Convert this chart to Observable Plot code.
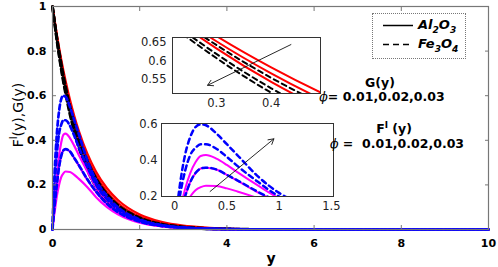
<!DOCTYPE html>
<html>
<head>
<meta charset="utf-8">
<script src="https://cdn.jsdelivr.net/npm/d3@7"></script>
<script src="https://cdn.jsdelivr.net/npm/@observablehq/plot@0.6"></script>
<style>
  body { margin: 0; background: #fff; }
  #wrap { position: relative; width: 498px; height: 267px; overflow: hidden; font-family: "DejaVu Sans", sans-serif; }
  .abs { position: absolute; }
  .ann { position: absolute; transform: translate(-50%, -50%); white-space: nowrap; font-weight: bold; font-size: 12.5px; color: #000; }
  .phi { font-family: "DejaVu Serif", serif; font-style: italic; font-weight: normal; }
  sup, sub { font-size: 70%; }
  .leg { position: absolute; left: 372px; top: 13px; width: 94px; height: 46px; border: 1px dotted #777; box-sizing: border-box; }
  .legtxt { position: absolute; font-weight: bold; font-style: italic; font-size: 13px; white-space: nowrap; transform: translateY(-50%); }
</style>
</head>
<body>
<div id="wrap">
  <div id="main" class="abs" style="left:0;top:0"></div>
  <div id="inset1" class="abs" style="left:132px;top:31px"></div>
  <div id="inset2" class="abs" style="left:129px;top:116px"></div>
  <div class="ann" style="left:380px;top:82px">G(y)</div>
  <div class="ann" style="left:382px;top:96px"><span class="phi">ϕ</span>= 0.01,0.02,0.03</div>
  <div class="ann" style="left:394px;top:128px">F<sup>I</sup> (y)</div>
  <div class="ann" style="left:397px;top:143px"><span class="phi">ϕ</span> =&nbsp; 0.01,0.02,0.03</div>
  <div class="ann" style="left:271px;top:258px;font-size:14px">y</div>
  <div class="ann" style="left:17px;top:115px;transform:translate(-50%,-50%) rotate(-90deg);font-weight:normal;font-size:14px">F<sup>I</sup>(y),G(y)</div>
  <div class="leg">
    <svg class="abs" style="left:0;top:0" width="94" height="46">
      <line x1="10" x2="40" y1="11.5" y2="11.5" stroke="#000" stroke-width="1.5"/>
      <line x1="10" x2="40" y1="30.5" y2="30.5" stroke="#000" stroke-width="1.5" stroke-dasharray="6,4"/>
    </svg>
    <div class="legtxt" style="left:45px;top:12px">Al<sub>2</sub>O<sub>3</sub></div>
    <div class="legtxt" style="left:45px;top:31px">Fe<sub>3</sub>O<sub>4</sub></div>
  </div>
</div>
<script>
// ---------- data ----------
const gx = [0,0.1,0.2,0.3,0.4,0.5,0.6,0.8,1,1.25,1.5,2,2.5,3,3.5,4,5,6,7,8,10];
// G(y), Al2O3 (red, solid), phi = 0.01, 0.02, 0.03
const gAl1 = [1,0.859,0.738,0.634,0.544,0.468,0.402,0.296,0.219,0.150,0.102,0.048,0.022,0.0105,0.0049,0.0023,0.0005,0,0,0,0];
const gAl2 = [1,0.868,0.753,0.653,0.567,0.492,0.427,0.321,0.242,0.169,0.119,0.058,0.029,0.014,0.0069,0.0034,0.0008,0.0002,0,0,0];
const gAl3 = [1,0.874,0.763,0.667,0.583,0.509,0.445,0.340,0.259,0.185,0.132,0.067,0.034,0.017,0.0089,0.0045,0.0012,0.0003,0.0001,0,0];
// G(y), Fe3O4 (black, dashed)
const gFe1 = [1,0.847,0.717,0.608,0.515,0.436,0.369,0.265,0.190,0.126,0.083,0.036,0.016,0.0069,0.0030,0.0013,0.0002,0,0,0,0];
const gFe2 = [1,0.852,0.726,0.619,0.527,0.449,0.383,0.278,0.202,0.135,0.091,0.041,0.018,0.0082,0.0037,0.0017,0.0003,0,0,0,0];
const gFe3 = [1,0.863,0.745,0.643,0.555,0.480,0.414,0.309,0.230,0.159,0.110,0.053,0.025,0.0122,0.0058,0.0028,0.0006,0,0,0,0];

const fx = [0,0.02,0.05,0.1,0.15,0.2,0.25,0.3,0.4,0.5,0.6,0.8,1,1.25,1.5,2,2.5,3,3.5,4,5,6,7,8,10];
// F'(y), Al2O3 (magenta, solid)
const fAl1 = [0,0.04,0.08,0.15,0.2,0.235,0.252,0.26,0.258,0.245,0.228,0.19,0.145,0.1,0.068,0.03,0.014,0.006,0.003,0.0012,0.0003,0,0,0,0];
const fAl2 = [0,0.05,0.11,0.2,0.28,0.33,0.355,0.36,0.35,0.32,0.288,0.222,0.168,0.113,0.077,0.034,0.015,0.007,0.003,0.0013,0.0003,0,0,0,0];
const fAl3 = [0,0.05,0.12,0.24,0.33,0.39,0.425,0.43,0.41,0.375,0.335,0.26,0.19,0.13,0.088,0.04,0.018,0.008,0.0035,0.0015,0.0003,0,0,0,0];
// F'(y), Fe3O4 (blue, dashed)
const fFe1 = [0,0.05,0.11,0.2,0.28,0.33,0.355,0.36,0.35,0.32,0.29,0.225,0.17,0.115,0.078,0.035,0.016,0.007,0.003,0.0014,0.0003,0,0,0,0];
const fFe2 = [0,0.09,0.2,0.34,0.43,0.47,0.49,0.49,0.465,0.42,0.37,0.28,0.2,0.135,0.09,0.04,0.018,0.008,0.0035,0.0016,0.0003,0,0,0,0];
const fFe3 = [0,0.12,0.26,0.43,0.53,0.585,0.60,0.595,0.55,0.49,0.43,0.31,0.22,0.15,0.10,0.045,0.02,0.009,0.004,0.002,0.0005,0,0,0,0];

const mainXTicks = [0,2,4,6,8,10];
const mainYTicks = [0,0.2,0.4,0.6,0.8,1];
const in1XTicks = [0.3,0.4];
const in1YTicks = [0.55,0.6,0.65];
const in2XTicks = [0,0.5,1,1.5];
const in2YTicks = [0.2,0.4,0.6];
// arrows (phi increasing direction)
const arrow1 = [{x1:0.436, y1:0.644, x2:0.284, y2:0.535}];
const arrow2 = [{x1:0.34, y1:0.228, x2:0.95, y2:0.52}];

// ---------- build tables ----------
function table(xs, series) {
  const rows = [];
  series.forEach((ys, i) => ys.forEach((v, j) => rows.push({x: xs[j], y: v, s: i})));
  return rows;
}
const GAl = table(gx, [gAl1, gAl2, gAl3]);
const GFe = table(gx, [gFe1, gFe2, gFe3]);
const FAl = table(fx, [fAl1, fAl2, fAl3]);
const FFe = table(fx, [fFe1, fFe2, fFe3]);

const RED = "#ff0000", BLK = "#000000", MAG = "#ff00ff", BLU = "#0000ff";
const curve = "monotone-x";

function curveMarks(w, dashG, dashF, clip) {
  return [
    Plot.line(GAl, {x:"x", y:"y", z:"s", stroke:RED, strokeWidth:w, curve, clip}),
    Plot.line(GFe, {x:"x", y:"y", z:"s", stroke:BLK, strokeWidth:w+0.5, strokeDasharray:dashG, curve, clip}),
    Plot.line(FAl, {x:"x", y:"y", z:"s", stroke:MAG, strokeWidth:w, curve, clip}),
    Plot.line(FFe, {x:"x", y:"y", z:"s", stroke:BLU, strokeWidth:w+0.5, strokeDasharray:dashF, curve, clip})
  ];
}

// ---------- main ----------
const main = Plot.plot({
  width: 498, height: 267,
  marginLeft: 52, marginRight: 10, marginTop: 6, marginBottom: 38,
  style: {fontFamily: "DejaVu Sans", fontSize: "11px", fontWeight: "bold", color: "#000", background: "transparent"},
  x: {domain: [0, 10], label: null},
  y: {domain: [0, 1], label: null},
  marks: [
    ...curveMarks(2.2, "6,3", "5,3", false),
    Plot.frame({stroke: "#777", strokeWidth: 1.2}),
    Plot.axisX({ticks: mainXTicks, tickSize: 0, tickPadding: 10, tickFormat: d => String(d)}),
    Plot.axisX({ticks: mainXTicks, tickSize: -4, text: null, stroke: "#777"}),
    Plot.axisX({anchor: "top", ticks: mainXTicks, tickSize: -4, text: null, stroke: "#777", label: null}),
    Plot.axisY({ticks: mainYTicks, tickSize: 0, tickPadding: 6, tickFormat: d => String(d)}),
    Plot.axisY({ticks: mainYTicks, tickSize: -4, text: null, stroke: "#777"}),
    Plot.axisY({anchor: "right", ticks: mainYTicks, tickSize: -4, text: null, stroke: "#777", label: null})
  ]
});
document.getElementById("main").appendChild(main);

// ---------- inset 1 (G zoom) ----------
const in1 = Plot.plot({
  width: 192, height: 80,
  marginLeft: 40, marginRight: 4, marginTop: 6, marginBottom: 18,
  style: {fontFamily: "DejaVu Sans", fontSize: "11.5px", color: "#222", background: "transparent"},
  x: {domain: [0.22, 0.49], label: null},
  y: {domain: [0.513, 0.663], label: null},
  marks: [
    Plot.frame({fill: "white"}),
    Plot.line(GFe, {x:"x", y:"y", z:"s", stroke:BLK, strokeWidth:2, strokeDasharray:"5,4", curve, clip:true}),
    Plot.line(GAl, {x:"x", y:"y", z:"s", stroke:RED, strokeWidth:2, curve, clip:true}),
    Plot.arrow(arrow1, {x1:"x1", y1:"y1", x2:"x2", y2:"y2", stroke:"#111", strokeWidth:0.9, headLength:10}),
    Plot.frame({stroke: "#333"}),
    Plot.axisX({ticks: in1XTicks, tickSize: 0, tickPadding: 5, tickFormat: d => String(d)}),
    Plot.axisY({ticks: in1YTicks, tickSize: 0, tickPadding: 6, tickFormat: d => String(d)})
  ]
});
document.getElementById("inset1").appendChild(in1);

// ---------- inset 2 (F' zoom) ----------
const in2 = Plot.plot({
  width: 216, height: 98,
  marginLeft: 32, marginRight: 12, marginTop: 7, marginBottom: 18,
  style: {fontFamily: "DejaVu Sans", fontSize: "11.5px", color: "#222", background: "transparent"},
  x: {domain: [-0.125, 1.52], label: null},
  y: {domain: [0.2, 0.605], label: null},
  marks: [
    Plot.frame({fill: "white"}),
    Plot.line(FAl, {x:"x", y:"y", z:"s", stroke:MAG, strokeWidth:2, curve, clip:true}),
    Plot.line(FFe, {x:"x", y:"y", z:"s", stroke:BLU, strokeWidth:2.5, strokeDasharray:"5,4", curve, clip:true}),
    Plot.arrow(arrow2, {x1:"x1", y1:"y1", x2:"x2", y2:"y2", stroke:"#111", strokeWidth:0.9, headLength:10}),
    Plot.frame({stroke: "#333"}),
    Plot.axisX({ticks: in2XTicks, tickSize: 0, tickPadding: 5, tickFormat: d => String(d)}),
    Plot.axisY({ticks: in2YTicks, tickSize: 0, tickPadding: 4, tickFormat: d => String(d)})
  ]
});
document.getElementById("inset2").appendChild(in2);
</script>
</body>
</html>
